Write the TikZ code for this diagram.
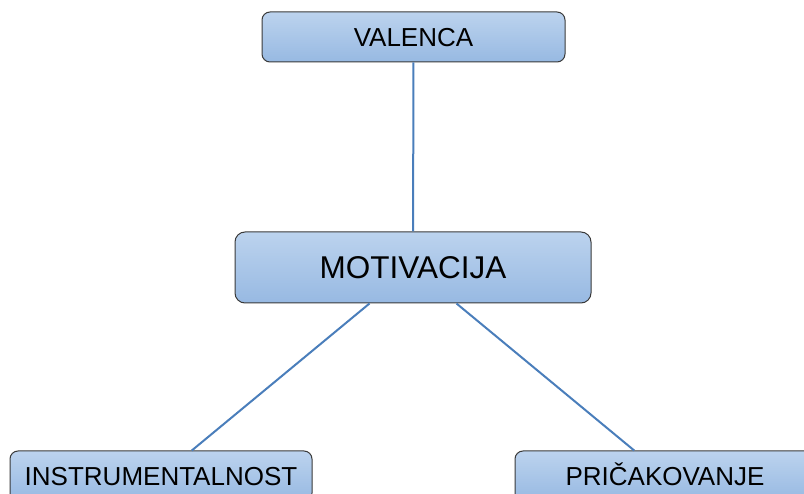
\documentclass[tikz,border=0pt]{standalone}
\usepackage{fontspec}
\setmainfont{Liberation Sans}
\definecolor{boxtop}{HTML}{BCD3EE}
\definecolor{boxbot}{HTML}{97B9E2}
\definecolor{boxline}{HTML}{3A3A3A}
\definecolor{link}{HTML}{4A7EBB}
\tikzset{
  box/.style={draw=boxline, line width=1pt, rounded corners=8pt, top color=boxtop, bottom color=boxbot, text=black, inner sep=0pt, font=\fontsize{26}{30}\selectfont, text height=18.6pt, text depth=0pt},
  conn/.style={draw=link, line width=2pt}
}
\begin{document}
\begin{tikzpicture}[x=1pt,y=-1pt]
\useasboundingbox (0,0) rectangle (804,494);
\clip (0,0) rectangle (804,494);
\node[box, minimum width=303pt, minimum height=50pt] (val) at (413.5,37) {VALENCA};
\node[box, rounded corners=10pt, minimum width=356pt, minimum height=71pt, font=\fontsize{31.5}{36}\selectfont, text height=22.6pt] (mot) at (413,267.5) {MOTIVACIJA};
\node[box, minimum width=302pt, minimum height=50pt] (ins) at (161,476) {INSTRUMENTALNOST};
\node[box, minimum width=300pt, minimum height=50pt] (pri) at (665,476) {PRIČAKOVANJE};
\draw[conn] (val) -- (mot);
\draw[conn] (mot) -- (ins);
\draw[conn] (mot) -- (pri);
\end{tikzpicture}
\end{document}
